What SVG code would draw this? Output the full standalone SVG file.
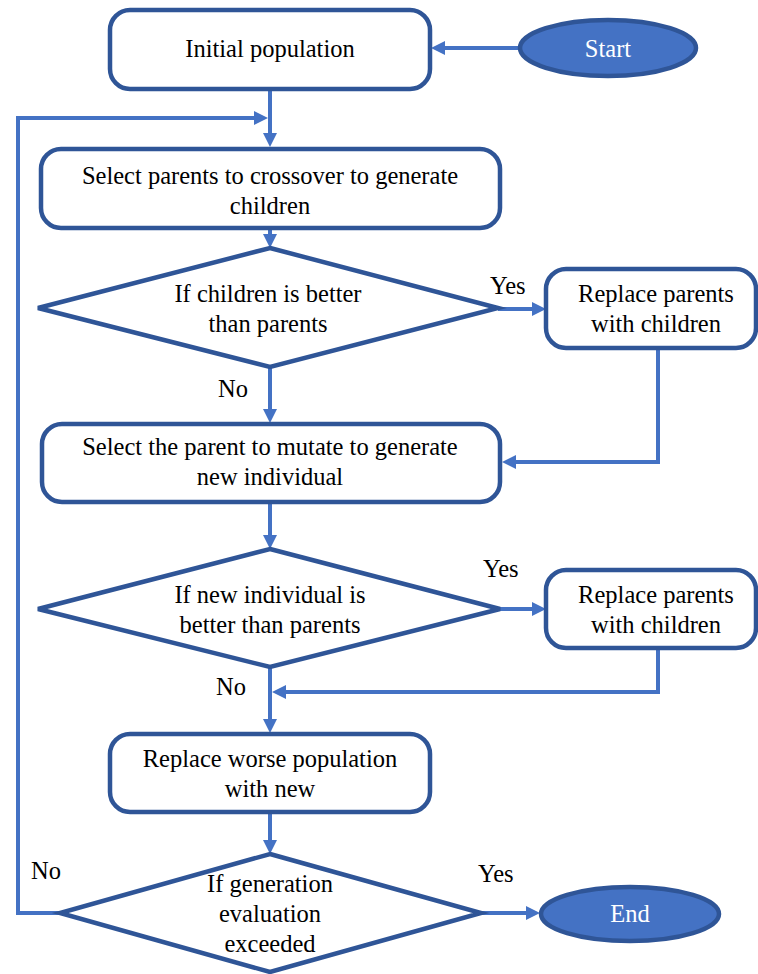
<svg xmlns="http://www.w3.org/2000/svg" width="758" height="974" viewBox="0 0 758 974">
  <style>
    .box { fill: #ffffff; stroke: #2F5597; stroke-width: 4.5; }
    .term { fill: #4472C4; stroke: #2F5597; stroke-width: 4.5; }
    .conn { fill: none; stroke: #4472C4; stroke-width: 4; marker-end: url(#arrow); }
    text { font-family: 'Liberation Serif', serif; font-size: 24.5px; }
    .txt { fill: #000000; text-anchor: middle; }
    .lbl { fill: #000000; }
    .wtxt { fill: #ffffff; text-anchor: middle; }
  </style>
  <defs>
    <marker id="arrow" viewBox="0 0 14 14" refX="6" refY="7" markerWidth="14" markerHeight="14" markerUnits="userSpaceOnUse" orient="auto">
      <path d="M0,0 L14,7 L0,14 z" fill="#4472C4"/>
    </marker>
  </defs>

  <!-- connectors -->
  <g id="connectors">
    <line class="conn" x1="520" y1="48" x2="439" y2="48"/>
    <line class="conn" x1="270" y1="89" x2="270" y2="139"/>
    <polyline class="conn" points="60,913 18,913 18,118 260,118"/>
    <line class="conn" x1="270" y1="229" x2="270" y2="240"/>
    <line class="conn" x1="498" y1="309" x2="538" y2="309"/>
    <polyline class="conn" points="658,348 658,462 510,462"/>
    <line class="conn" x1="270" y1="367" x2="270" y2="415"/>
    <line class="conn" x1="270" y1="503" x2="270" y2="541"/>
    <line class="conn" x1="500" y1="609" x2="538" y2="609"/>
    <polyline class="conn" points="658,648 658,692 280,692"/>
    <line class="conn" x1="270" y1="667" x2="270" y2="725"/>
    <line class="conn" x1="270" y1="813" x2="270" y2="846"/>
    <line class="conn" x1="481" y1="913" x2="532" y2="913"/>
  </g>

  <!-- branch labels -->
  <g id="labels">
    <text class="lbl" x="490" y="294">Yes</text>
    <text class="lbl" x="218" y="397">No</text>
    <text class="lbl" x="483" y="577">Yes</text>
    <text class="lbl" x="216" y="695">No</text>
    <text class="lbl" x="31" y="879">No</text>
    <text class="lbl" x="478" y="882">Yes</text>
  </g>

  <g id="start">
    <ellipse class="term" cx="608" cy="48" rx="88" ry="28"/>
    <text class="wtxt" x="608" y="57">Start</text>
  </g>

  <g id="initial-population">
    <rect class="box" x="110" y="10" width="320" height="79" rx="20"/>
    <text class="txt" x="270" y="57">Initial population</text>
  </g>

  <g id="crossover">
    <rect class="box" x="41" y="149" width="459" height="79" rx="20"/>
    <text class="txt" x="270" y="184">Select parents to crossover to generate</text>
    <text class="txt" x="270" y="214">children</text>
  </g>

  <g id="children-better">
    <polygon class="box" points="270,248 498,308 270,367 38,308"/>
    <text class="txt" x="268" y="302">If children is better</text>
    <text class="txt" x="268" y="332">than parents</text>
  </g>

  <g id="replace-1">
    <rect class="box" x="546" y="269" width="210" height="79" rx="20"/>
    <text class="txt" x="656" y="302">Replace parents</text>
    <text class="txt" x="656" y="332">with children</text>
  </g>

  <g id="mutate">
    <rect class="box" x="42" y="424" width="458" height="78" rx="20"/>
    <text class="txt" x="270" y="455">Select the parent to mutate to generate</text>
    <text class="txt" x="270" y="485">new individual</text>
  </g>

  <g id="individual-better">
    <polygon class="box" points="270,549 500,609 270,667 38,609"/>
    <text class="txt" x="270" y="603">If new individual is</text>
    <text class="txt" x="270" y="633">better than parents</text>
  </g>

  <g id="replace-2">
    <rect class="box" x="546" y="570" width="210" height="78" rx="20"/>
    <text class="txt" x="656" y="603">Replace parents</text>
    <text class="txt" x="656" y="633">with children</text>
  </g>

  <g id="replace-worse">
    <rect class="box" x="110" y="734" width="320" height="78" rx="20"/>
    <text class="txt" x="270" y="767">Replace worse population</text>
    <text class="txt" x="270" y="797">with new</text>
  </g>

  <g id="generation-check">
    <polygon class="box" points="270,854 481,913 270,972 60,913"/>
    <text class="txt" x="270" y="892">If generation</text>
    <text class="txt" x="270" y="922">evaluation</text>
    <text class="txt" x="270" y="952">exceeded</text>
  </g>

  <g id="end">
    <ellipse class="term" cx="630" cy="914" rx="89" ry="27"/>
    <text class="wtxt" x="630" y="922">End</text>
  </g>
</svg>
